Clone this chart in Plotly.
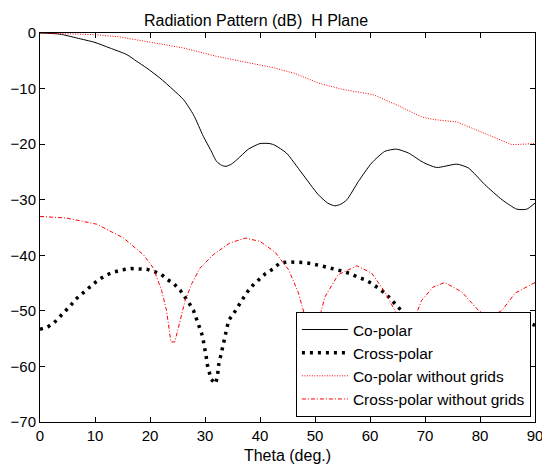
import plotly.graph_objects as go

# Co-polar (black solid)
co_theta = [0, 3.6, 6.7, 10, 12.7, 15.8, 17.6, 19.4, 21.8, 24.2, 26.1, 27.9, 29.7, 31.0, 32.1, 33.0, 33.8,
            34.8, 35.8, 37.9, 40, 41.8, 42.7, 44.8, 47.6, 50.6, 52.3, 53.6, 54.7, 55.8, 57.9, 60.3, 62.7, 64.8,
            67, 69.7, 72.1, 75.8, 77.9, 80.9, 84, 86.7, 88.5, 90]
co_db = [0, -0.2, -0.9, -1.7, -2.7, -3.9, -5.1, -6.3, -8.1, -10.2, -12, -14.7, -18.6, -21.0, -23.1, -23.8, -24.0,
         -23.6, -22.8, -20.9, -19.9, -19.9, -20.2, -21.6, -25.2, -29.1, -30.6, -31.1, -30.8, -30.0, -26.7, -23.4, -21.3, -20.9,
         -21.6, -23.3, -24.2, -23.6, -24.3, -27.3, -30.0, -31.7, -31.7, -30.6]

# Cross-polar (black dotted)
cx_theta = [0, 1.4, 2.6, 3.6, 4.6, 5.6, 6.5, 7.6, 8.7, 9.9, 11.0, 12.2, 13.5, 15.0, 16.5, 17.9,
            19.4, 20.7, 22.0, 23.1, 24.4, 25.5, 26.4, 27.1, 27.9, 28.4, 28.9, 29.4, 29.7, 30.0,
            30.2, 30.4, 30.7, 31.1, 31.9, 32.3, 32.4, 32.7, 33.1, 33.3, 33.7, 33.9, 34.3, 35.2,
            36.0, 36.9, 37.7, 38.7, 39.9, 41.0, 42.3, 43.6, 45.0, 46.5, 47.9, 49.4, 50.8, 52.2,
            53.6, 55.1, 56.4, 57.7, 59.1, 60.4, 61.6, 62.7, 63.7, 64.6, 65.6, 66.6, 67.7, 69.1,
            70.4, 71.9, 73.3, 75.5, 78.0, 80.3, 81.5, 83.0, 84.4, 85.9, 87.3, 88.6, 90]
cx_db = [-53.3, -52.9, -52.1, -51.1, -50.0, -49.0, -47.9, -46.9, -45.9, -45.0, -44.2, -43.5, -43.0,
         -42.6, -42.4, -42.4, -42.5, -42.9, -43.4, -44.3, -45.2, -46.3, -47.5, -48.6, -49.9, -51.2,
         -52.6, -54.1, -55.4, -56.8, -58.1, -59.6, -61.0, -62.3, -63.1, -61.7, -60.1, -58.7, -57.2,
         -55.9, -54.5, -53.1, -51.7, -50.5, -49.1, -47.8, -46.6, -45.4, -44.3, -43.3, -42.5, -41.4,
         -41.2, -41.2, -41.3, -41.5, -41.8, -42.1, -42.5, -42.9, -43.3, -43.9, -44.4, -45.1, -45.9,
         -46.8, -47.8, -48.8, -49.9, -50.9, -51.8, -52.6, -52.9, -52.9, -53.0, -53.1, -53.1, -52.9,
         -52.4, -51.7, -51.4, -51.2, -51.5, -52.0, -52.6]

# Co-polar without grids (red dotted)
cong_theta = [0, 3.0, 10, 14.5, 16.9, 20, 26.1, 32.1, 38.2, 42.7, 46.4, 50.6, 54.8, 60.6, 65.2,
              69.4, 71.8, 75.8, 78.5, 82.1, 85.8, 90]
cong_db = [0, -0.1, -0.3, -0.7, -1.1, -1.7, -2.7, -4.2, -5.4, -6.3, -7.3, -9.0, -10.1, -11.1, -13.1,
           -15.1, -15.6, -16.0, -17.1, -18.6, -20.1, -19.9]

# Cross-polar without grids (red dash-dot)
cxng_theta = [0, 4.8, 10.3, 15.2, 18.8, 20.6, 22.1, 23.0, 23.8, 24.5, 25.5, 26.4, 27.6, 29.1,
              31.5, 34.5, 37.3, 40, 42.7, 45.2, 47.0, 48.2, 48.8, 49.5, 50.3, 51.8, 54.2, 57.6,
              60.3, 62.7, 64.5, 65.5, 66.5, 67.6, 69.4, 71.5, 73.6, 76.7, 79.7, 81.8, 84, 86.4, 90]
cxng_db = [-33.0, -33.3, -34.4, -36.9, -39.9, -42.3, -46.3, -49.9, -55.6, -55.6, -51.7, -48.1,
           -45.1, -42.3, -39.9, -37.8, -36.9, -37.5, -39.4, -42.6, -46.8, -51.1, -53.2, -58.0,
           -53.2, -47.5, -43.5, -41.9, -43.2, -46.6, -49.9, -52.9, -57.0, -52.6, -48.1, -45.7,
           -44.9, -46.6, -49.9, -51.2, -49.9, -46.8, -44.9]

x_ticks = [0, 10, 20, 30, 40, 50, 60, 70, 80, 90]
y_ticks = [0, -10, -20, -30, -40, -50, -60, -70]

FONT = "Arial, Liberation Sans, Helvetica, sans-serif"

# The page body has an 8px default margin, so the figure is sized to fit the window.
W, H = 542, 458

fig = go.Figure()
fig.add_trace(go.Scatter(x=co_theta, y=co_db, mode="lines", name="Co-polar",
                         line=dict(color="black", width=1, shape="spline", smoothing=0.6)))
fig.add_trace(go.Scatter(x=cx_theta, y=cx_db, mode="lines", name="Cross-polar",
                         line=dict(color="black", width=3.5, dash="3px,5px")))
fig.add_trace(go.Scatter(x=cong_theta, y=cong_db, mode="lines", name="Co-polar without grids",
                         line=dict(color="red", width=1, dash="1px,1.5px")))
fig.add_trace(go.Scatter(x=cxng_theta, y=cxng_db, mode="lines", name="Cross-polar without grids",
                         line=dict(color="red", width=1, dash="4px,2px,1px,2px")))

axis_common = dict(showline=True, linecolor="black", linewidth=1, mirror="allticks",
                   ticks="inside", ticklen=5, tickcolor="black", tickwidth=1,
                   showgrid=False, zeroline=False, automargin=False,
                   tickfont=dict(family=FONT, size=15, color="black"))

fig.update_layout(
    width=W, height=H,
    margin=dict(l=32, r=15, t=25, b=44),
    paper_bgcolor="white", plot_bgcolor="white",
    font=dict(family=FONT, color="black"),
    title=dict(text="Radiation Pattern (dB)\u00a0 H Plane", x=248 / W, xref="container",
               xanchor="center", y=1 - 12 / H, yref="container", yanchor="middle",
               font=dict(family=FONT, size=16, color="black")),
    xaxis=dict(range=[0, 90], tickvals=x_ticks,
               title=dict(text="Theta (deg.)", font=dict(family=FONT, size=16, color="black"),
                          standoff=6),
               **axis_common),
    yaxis=dict(range=[-70, 0], tickvals=y_ticks, **axis_common),
    legend=dict(x=0.517, y=0.013, xanchor="left", yanchor="bottom",
                bgcolor="white", bordercolor="black", borderwidth=1,
                font=dict(family=FONT, size=15.5, color="black"),
                tracegroupgap=0, itemwidth=46),
    showlegend=True,
)

fig.write_html("out.html")
